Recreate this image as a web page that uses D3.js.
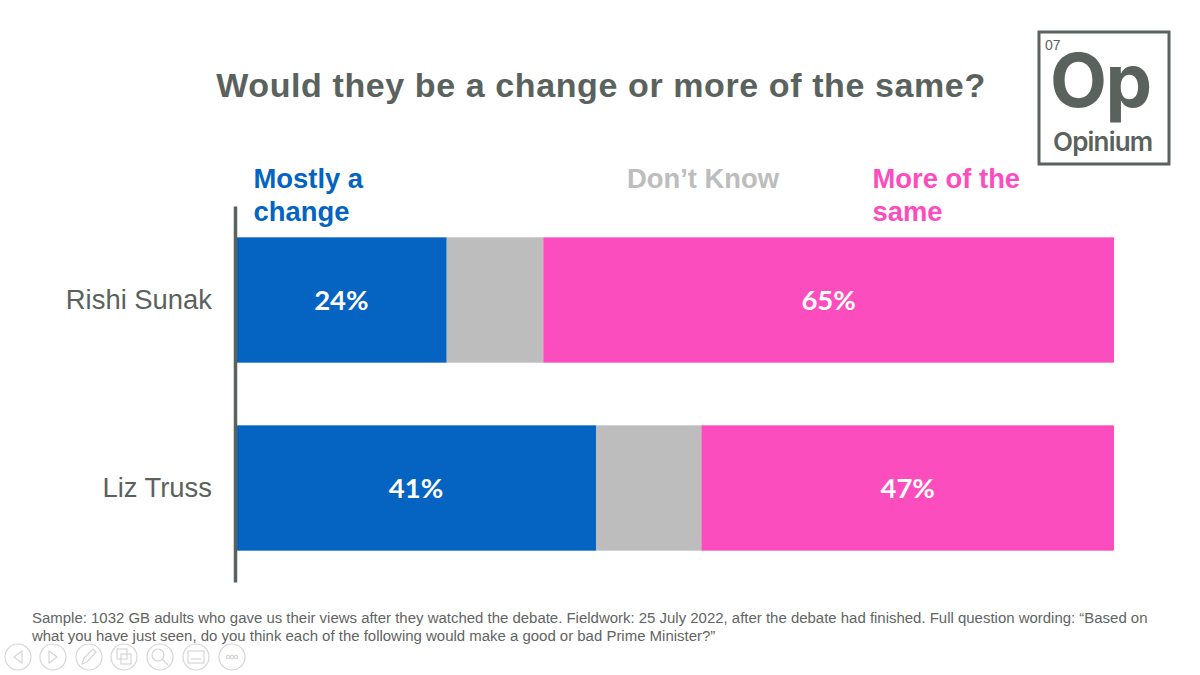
<!DOCTYPE html>
<html>
<head>
<meta charset="utf-8">
<script src="https://cdn.jsdelivr.net/npm/d3@7"></script>
<style>
    html, body { margin: 0; padding: 0; background: #fff; }
    svg { display: block; }
    text { font-family: "Liberation Sans", Arial, sans-serif; }
</style>
</head>
<body>
<div id="chart"></div>
<script>
const people = ["Rishi Sunak", "Liz Truss"];
const seriesNames = ["Mostly a change", "Don\u2019t Know", "More of the same"];
const mostlyChange = [24, 41];
const dontKnow = [11, 12];
const moreOfSame = [65, 47];
const titleText = "Would they be a change or more of the same?";
const footnoteLines = [
    "Sample: 1032 GB adults who gave us their views after they watched the debate. Fieldwork: 25 July 2022, after the debate had finished. Full question wording: \u201cBased on",
    "what you have just seen, do you think each of the following would make a good or bad Prime Minister?\u201d"
];

function main() {
    const canvasWidth = 1200;
    const canvasHeight = 675;
    const grey = "#5a625e";
    const colors = ["#0563c1", "#bdbdbd", "#fb4dbd"];

    const svg = d3.select("#chart").append("svg")
        .attr("width", canvasWidth)
        .attr("height", canvasHeight);

    const xScale = d3.scaleLinear().domain([0, 100]).range([236, 1114]);
    const yScale = d3.scaleBand().domain(people).range([206, 582])
        .paddingInner(1 / 3).paddingOuter(1 / 6);

    // title
    svg.append("text")
        .attr("x", 601).attr("y", 97)
        .attr("text-anchor", "middle")
        .attr("font-size", 34)
        .attr("font-weight", "bold")
        .attr("letter-spacing", 0.6)
        .attr("fill", grey)
        .text(titleText);

    // bars
    const rows = people.map((p, i) => ({
        name: p,
        values: [mostlyChange[i], dontKnow[i], moreOfSame[i]]
    }));

    rows.forEach(row => {
        let start = 0;
        row.values.forEach((v, j) => {
            svg.append("rect")
                .attr("x", xScale(start))
                .attr("y", yScale(row.name))
                .attr("width", xScale(start + v) - xScale(start))
                .attr("height", yScale.bandwidth())
                .attr("fill", colors[j]);
            // the don't know segment has no label in the original
            if (j != 1) {
                svg.append("text")
                    .attr("x", (xScale(start) + xScale(start + v)) / 2)
                    .attr("y", yScale(row.name) + yScale.bandwidth() / 2 + 10)
                    .attr("text-anchor", "middle")
                    .attr("font-size", 27.5)
                    .attr("font-weight", "bold")
                    .attr("fill", "#fff")
                    .style("font-family", "Lato")
                    .text(v + "%");
            }
            start += v;
        });
    });

    // category axis
    const yAxis = svg.append("g")
        .attr("transform", "translate(235,0)")
        .call(d3.axisLeft(yScale).tickSize(0).tickPadding(23));
    yAxis.select(".domain").attr("stroke", grey).attr("stroke-width", 3.5);
    yAxis.selectAll("text")
        .attr("font-size", 27.4)
        .attr("fill", grey)
        .style("font-family", "Liberation Sans")
        .attr("dy", "0.31em");

    // series headers
    const headers = [
        { lines: ["Mostly a", "change"], x: 253.5 },
        { lines: [seriesNames[1]], x: 627 },
        { lines: ["More of the", "same"], x: 872.5 }
    ];
    headers.forEach((h, i) => {
        h.lines.forEach((line, k) => {
            svg.append("text")
                .attr("x", h.x)
                .attr("y", 188 + k * 33)
                .attr("font-size", 27.4)
                .attr("font-weight", "bold")
                .attr("fill", colors[i])
                .text(line);
        });
    });

    // footnote
    footnoteLines.forEach((line, i) => {
        svg.append("text")
            .attr("x", 32)
            .attr("y", 623 + i * 18)
            .attr("font-size", 14.96)
            .attr("fill", "#5f6562")
            .text(line);
    });

    // logo
    const logo = svg.append("g").attr("fill", grey);
    logo.append("rect")
        .attr("x", 1039).attr("y", 32)
        .attr("width", 130).attr("height", 132)
        .attr("fill", "none")
        .attr("stroke", grey)
        .attr("stroke-width", 3);
    logo.append("text").attr("x", 1045).attr("y", 50)
        .attr("font-size", 14).text("07");
    logo.append("text").attr("x", 1050).attr("y", 107)
        .attr("font-size", 74).attr("font-weight", 700)
        .attr("letter-spacing", -1.5)
        .style("font-family", "Inter").text("Op");
    logo.append("text").attr("x", 1053).attr("y", 151)
        .attr("font-size", 26).attr("font-weight", 600)
        .attr("letter-spacing", -0.8)
        .style("font-family", "Inter").text("Opinium");

    // slide show controls
    const navX = [18, 53, 89, 124, 160, 196, 232];
    const nav = svg.append("g")
        .attr("fill", "none")
        .attr("stroke", "#d6d6d6")
        .attr("stroke-width", 1.2);
    navX.forEach((x, i) => {
        const g = nav.append("g").attr("transform", "translate(" + x + ",657)");
        g.append("circle").attr("r", 13);
        if (i == 0) g.append("path").attr("d", "M4,-6L-4,0L4,6Z");
        if (i == 1) g.append("path").attr("d", "M-4,-6L4,0L-4,6Z");
        if (i == 2) g.append("path").attr("d", "M-7,7L-5,1L4,-8L7,-5L-2,5Z");
        if (i == 3) {
            g.append("rect").attr("x", -7).attr("y", -8).attr("width", 10).attr("height", 10);
            g.append("rect").attr("x", -3).attr("y", -3).attr("width", 10).attr("height", 10);
        }
        if (i == 4) {
            g.append("circle").attr("cx", -2).attr("cy", -2).attr("r", 6);
            g.append("path").attr("d", "M2,2L8,8");
        }
        if (i == 5) {
            g.append("rect").attr("x", -8).attr("y", -6).attr("width", 16).attr("height", 12);
            g.append("path").attr("d", "M-5,2H5");
        }
        if (i == 6) {
            [-4, 0, 4].forEach(c => g.append("circle").attr("cx", c).attr("r", 1.6));
        }
    });
}
main();
</script>
</body>
</html>
